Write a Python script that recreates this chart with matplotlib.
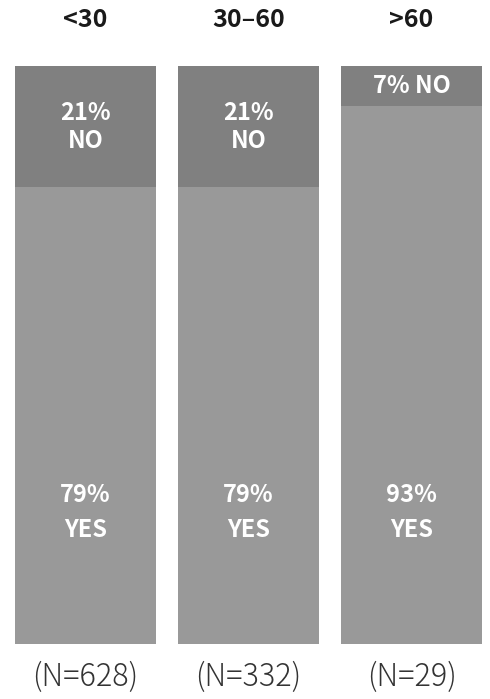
import numpy as np
import matplotlib
matplotlib.use("Agg")
import matplotlib.pyplot as plt

# Data
groups = ["<30", "30–60", ">60"]
yes = [79, 79, 93]
no = [21, 21, 7]
counts = ["(N=628)", "(N=332)", "(N=29)"]

plt.rcParams['font.family'] = ['Noto Sans CJK JP', 'DejaVu Sans']

fig = plt.figure(figsize=(4.9, 6.99), dpi=100)
ax = fig.add_axes([4 / 490, 55 / 699, 489 / 490, 578 / 699])

x = np.arange(len(groups))
w = 0.865
ax.bar(x, yes, width=w, color="#999999")
ax.bar(x, no, width=w, bottom=yes, color="#808080")

lbl = dict(ha="center", va="center", color="white", fontsize=17, fontweight="bold")
for i in x:
    ax.text(i, 25.8, f"{yes[i]}%", **lbl)
    ax.text(i, 19.7, "YES", **lbl)
    mid = yes[i] + no[i] / 2
    if no[i] >= 10:
        ax.text(i, mid + 2.4, f"{no[i]}%", **lbl)
        ax.text(i, mid - 2.4, "NO", **lbl)
    else:
        ax.text(i, mid, f"{no[i]}% NO", **lbl)
    ax.text(i, 108.0, groups[i], ha="center", va="center", fontsize=18,
            fontweight="bold", color="#1a1a1a", clip_on=False)
    ax.text(i, -5.7, counts[i], ha="center", va="center", fontsize=22,
            fontweight="light", color="#333333", clip_on=False)

ax.set_xlim(-0.5, 2.5)
ax.set_ylim(0, 100)
ax.axis("off")

fig.savefig("out.png", dpi=100)
